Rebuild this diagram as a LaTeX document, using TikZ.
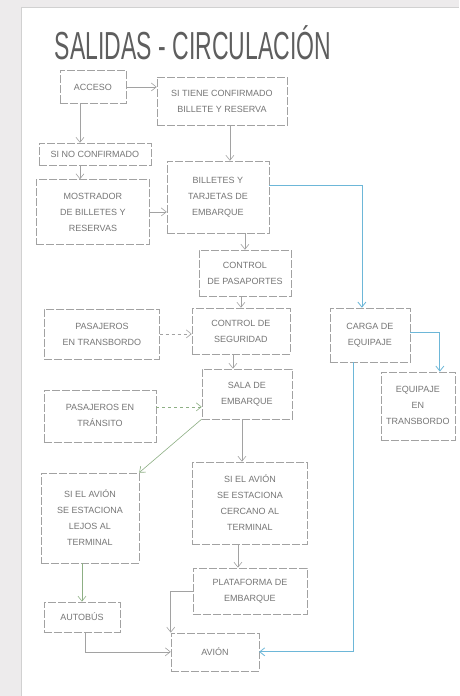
\documentclass[tikz,border=0pt]{standalone}
\usepackage{fontspec}
\setmainfont{Liberation Sans}
\usetikzlibrary{arrows.meta}
\definecolor{Margin}{HTML}{EDEBEC}
\definecolor{Pencil}{HTML}{A2A2A2}
\definecolor{Lead}{HTML}{767676}
\definecolor{Sage}{HTML}{8DAF84}
\definecolor{Sky}{HTML}{6DB7D8}
\begin{document}
\begin{tikzpicture}[x=1pt,y=-1pt,every node/.style={text=Lead},
  box/.style={draw=Pencil,dash pattern=on 8pt off 2pt,align=center,inner sep=2pt,font=\fontsize{9}{16}\selectfont},
  flow/.style={-{Straight Barb[length=5pt,width=8pt]},draw=Pencil,semithick},
  sageflow/.style={flow,draw=Sage},
  skyflow/.style={flow,draw=Sky,thick}]
\fill[Margin] (0,0) rectangle (459,696);
\fill[white] (21,7) rectangle (459,696);
\draw[Pencil!50] (21,696)--(21,7)--(459,7);
\node[text=Lead!80!black] (titulo) at (193,43) {\scalebox{1}[1.7]{\fontsize{23}{23}\selectfont SALIDAS - CIRCULACIÓN}};
% columna izquierda
\node[box,minimum width=66,minimum height=33] (acceso) at (93,87) {ACCESO};
\node[box,minimum width=112,minimum height=22] (noconf) at (95,154) {SI NO CONFIRMADO};
\node[box,minimum width=113,minimum height=65] (mostrador) at (93,212) {MOSTRADOR\\DE BILLETES Y\\RESERVAS};
\node[box,minimum width=115,minimum height=50] (transbordo) at (102,334) {PASAJEROS\\EN TRANSBORDO};
\node[box,minimum width=112,minimum height=52] (transito) at (100,416) {PASAJEROS EN\\TRÁNSITO};
\node[box,minimum width=98,minimum height=90] (lejos) at (90,518) {SI EL AVIÓN\\SE ESTACIONA\\LEJOS AL\\TERMINAL};
\node[box,minimum width=76,minimum height=30] (autobus) at (82,617) {AUTOBÚS};
% columna central
\node[box,minimum width=130,minimum height=48] (confirm) at (222,101) {SI TIENE CONFIRMADO\\BILLETE Y RESERVA};
\node[box,minimum width=102,minimum height=72] (billetes) at (218,197) {BILLETES Y\\TARJETAS DE\\EMBARQUE};
\node[box,minimum width=92,minimum height=46] (pasaportes) at (245,273) {CONTROL\\DE PASAPORTES};
\node[box,minimum width=98,minimum height=46] (seguridad) at (241,331) {CONTROL DE\\SEGURIDAD};
\node[box,minimum width=90,minimum height=50] (sala) at (247,394) {SALA DE\\EMBARQUE};
\node[box,minimum width=115,minimum height=82] (cercano) at (250,503) {SI EL AVIÓN\\SE ESTACIONA\\CERCANO AL\\TERMINAL};
\node[box,minimum width=114,minimum height=46] (plataforma) at (250,591) {PLATAFORMA DE\\EMBARQUE};
\node[box,minimum width=88,minimum height=38] (avion) at (215,652) {AVIÓN};
% equipaje
\node[box,minimum width=80,minimum height=54] (carga) at (370,335) {CARGA DE\\EQUIPAJE};
\node[box,minimum width=74,minimum height=68] (equipaje) at (418,406) {EQUIPAJE\\EN\\TRANSBORDO};
% conexiones
\draw[flow] (acceso.east)--(acceso.east -| confirm.west);
\draw[flow] ([xshift=-13pt]acceso.south)--([xshift=-13pt]acceso.south |- noconf.north);
\draw[flow] ([xshift=-15pt]noconf.south)--([xshift=-15pt]noconf.south |- mostrador.north);
\draw[flow] ([xshift=8pt]confirm.south)--([xshift=8pt]confirm.south |- billetes.north);
\draw[flow] (mostrador.east)--(mostrador.east -| billetes.west);
\draw[flow] (pasaportes.north |- billetes.south)--(pasaportes.north);
\draw[flow] (seguridad.north |- pasaportes.south)--(seguridad.north);
\draw[flow,dashed] (transbordo.east)--(transbordo.east -| seguridad.west);
\draw[flow] ([xshift=-8pt]seguridad.south)--([xshift=-8pt]seguridad.south |- sala.north);
\draw[sageflow,dashed] ([yshift=9pt]transito.east)--([yshift=9pt]transito.east -| sala.west);
\draw[sageflow] (sala.south west)--(lejos.north east);
\draw[flow] ([xshift=-5pt]sala.south)--([xshift=-5pt]sala.south |- cercano.north);
\draw[sageflow] (autobus.north |- lejos.south)--(autobus.north);
\draw[flow] ([xshift=-12pt]cercano.south)--([xshift=-12pt]cercano.south |- plataforma.north);
\draw[flow] (plataforma.west) -| (avion.north west);
\draw[flow] ([xshift=3pt]autobus.south) |- (avion.west);
\draw[skyflow] ([yshift=12pt]billetes.east) -| ([xshift=-8pt]carga.north);
\draw[skyflow] ([yshift=3pt]carga.east) -| ([xshift=22pt]equipaje.north);
\draw[skyflow] ([xshift=-17pt]carga.south) |- (avion.east);
\end{tikzpicture}
\end{document}
